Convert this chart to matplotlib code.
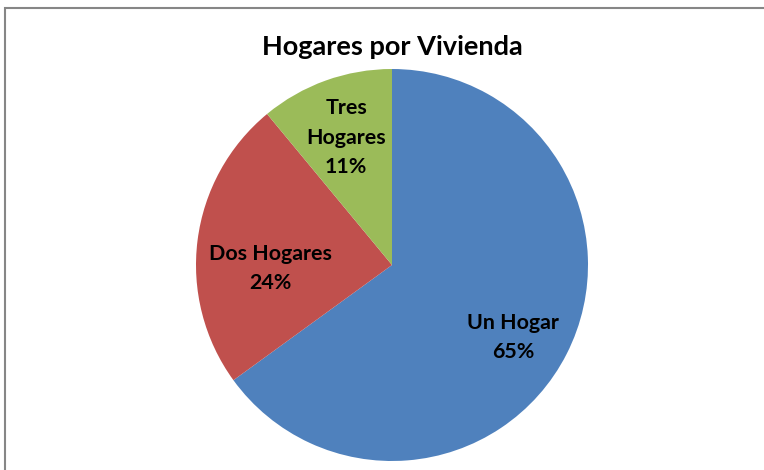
import matplotlib.pyplot as plt
import numpy as np
from matplotlib.patches import Rectangle

categories = ['Un Hogar', 'Dos Hogares', 'Tres\nHogares']
shares = [65, 24, 11]
colors = ['#4F81BD', '#C0504D', '#9BBB59']
title = 'Hogares por Vivienda'

W, H = 764, 470
fig = plt.figure(figsize=(W / 100, H / 100), dpi=100)
plt.rcParams['font.family'] = ['Lato', 'DejaVu Sans']

# gray chart-area frame (cut at right/bottom)
fig.patches.append(Rectangle((5 / W, -0.1), 1.2, 1 - 8 / H + 0.1,
                             transform=fig.transFigure, fill=False,
                             edgecolor='#868686', linewidth=1.5))

cx, cy, r = 392, 265, 196
ax = fig.add_axes([(cx - r) / W, (H - cy - r) / H, 2 * r / W, 2 * r / H])
wedges, _ = ax.pie(shares, colors=colors, startangle=90, counterclock=False,
                   radius=1.0, wedgeprops=dict(linewidth=0))
ax.set_xlim(-1, 1)
ax.set_ylim(-1, 1)
ax.set_aspect('equal')
ax.axis('off')

label_r = [0.72, 0.62, 0.69]
label_shift = [-4, 9, 0]
for w, name, v, lr, sh in zip(wedges, categories, shares, label_r, label_shift):
    ang = np.deg2rad((w.theta1 + w.theta2) / 2 + sh)
    ax.text(lr * np.cos(ang), lr * np.sin(ang), f'{name}\n{v}%',
            ha='center', va='center', fontsize=15.4, fontweight='bold',
            linespacing=1.58, color='black')

fig.text(392 / W, 1 - 47 / H, title, ha='center', va='center',
         fontsize=19.5, fontweight='bold')

fig.savefig('out.png', dpi=100, facecolor='white')
